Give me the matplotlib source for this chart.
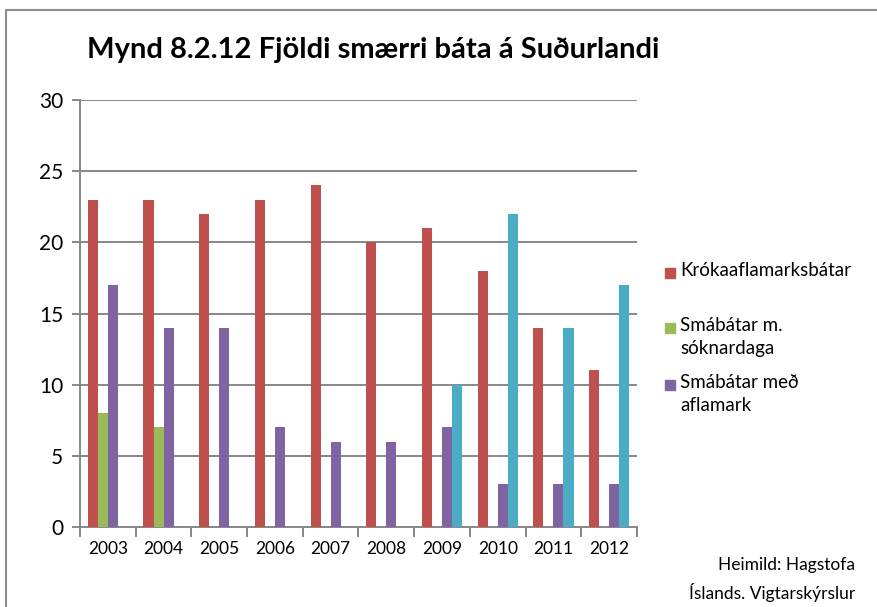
import numpy as np
import matplotlib.pyplot as plt
from matplotlib.patches import Rectangle
from matplotlib.lines import Line2D

plt.rcParams['font.family'] = ['Lato', 'DejaVu Sans']

years = ["2003", "2004", "2005", "2006", "2007", "2008", "2009", "2010", "2011", "2012"]
krokaafla = [23, 23, 22, 23, 24, 20, 21, 18, 14, 11]
sokndagar = [8, 7, 0, 0, 0, 0, 0, 0, 0, 0]
aflamark = [17, 14, 14, 7, 6, 6, 7, 3, 3, 3]
fjorda = [0, 0, 0, 0, 0, 0, 10, 22, 14, 17]

series = [
    ("Krókaaflamarksbátar", krokaafla, "#C0504D"),
    ("Smábátar m.\nsóknardaga", sokndagar, "#9BBB59"),
    ("Smábátar með\naflamark", aflamark, "#8064A2"),
    (None, fjorda, "#4BACC6"),
]

fig = plt.figure(figsize=(8.78, 6.07), dpi=100)
# outer chart frame, left and top edges only
fx, fy = 6 / 878, 1 - 10 / 607
fig.lines.append(Line2D([fx, fx, 1.0], [0.0, fy, fy], transform=fig.transFigure,
                        color="#8c8c8c", linewidth=1.5))

ax = fig.add_axes([80 / 878, 1 - 527 / 607, 557 / 878, 427 / 607])

x = np.arange(len(years))
w = 0.18
for i, (name, vals, col) in enumerate(series):
    ax.bar(x + (i - 1.5) * w, vals, width=w, color=col, zorder=3)

ax.set_xlim(-0.5, len(years) - 0.5)
ax.set_ylim(0, 30)
ax.set_yticks(range(0, 31, 5))
ax.yaxis.grid(True, color="#878787", linewidth=1.4, zorder=0)
for s in ["top", "right"]:
    ax.spines[s].set_visible(False)
for s in ["left", "bottom"]:
    ax.spines[s].set_color("#878787")
    ax.spines[s].set_linewidth(1.4)

ax.set_xticks(np.arange(-0.5, len(years), 1))
ax.set_xticklabels([])
ax.set_xticks(x, minor=True)
ax.set_xticklabels(years, minor=True, fontsize=12.5)
ax.tick_params(axis="x", which="major", length=7, width=1.4, color="#878787")
ax.tick_params(axis="x", which="minor", length=0, pad=10)
ax.tick_params(axis="y", length=6, width=1.4, color="#878787", labelsize=15, pad=6)

fig.text(87 / 878, 1 - 50 / 607, "Mynd 8.2.12 Fjöldi smærri báta á Suðurlandi",
         fontsize=21, fontweight="bold", va="center", ha="left")

# legend (cyan series has no entry)
leg_y = [273, 328, 385]
for (name, vals, col), yy in zip(series[:3], leg_y):
    fig.patches.append(Rectangle((665 / 878, 1 - (yy + 5) / 607), 10 / 878, 10 / 607,
                                 transform=fig.transFigure, color=col))
    fig.text(680 / 878, 1 - (yy - 11) / 607, name, fontsize=13.5, va="top",
             ha="left", linespacing=1.45)

fig.text(855 / 878, 1 - 565 / 607, "Heimild: Hagstofa", fontsize=12.5,
         ha="right", va="center")
fig.text(855 / 878, 1 - 592 / 607, "Íslands. Vigtarskýrslur", fontsize=12.5,
         ha="right", va="center")

fig.savefig("out.png", dpi=100)
